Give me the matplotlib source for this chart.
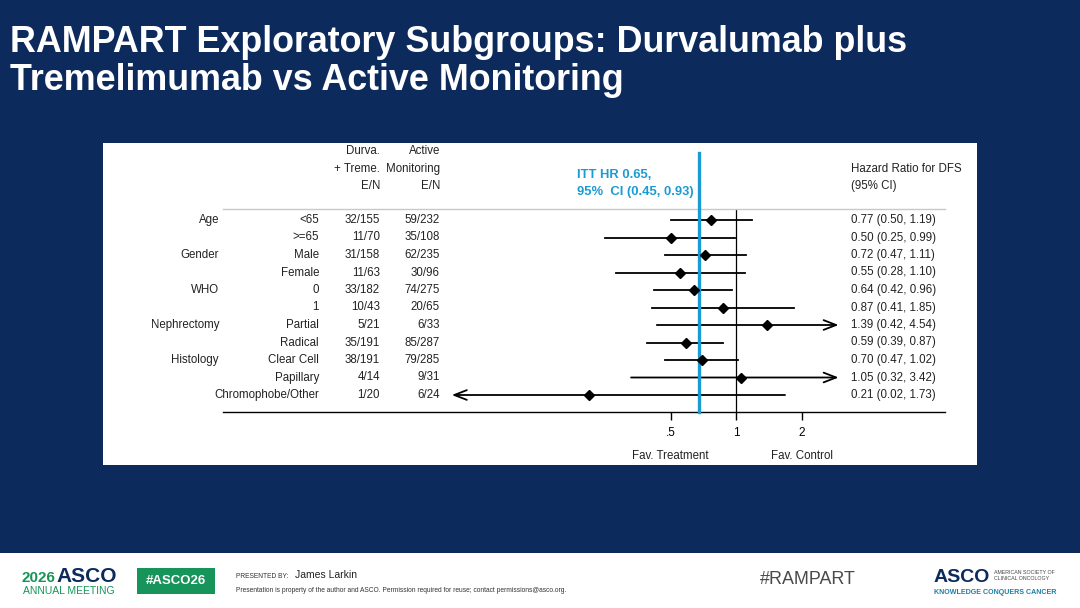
import numpy as np
import matplotlib.pyplot as plt
from matplotlib.patches import Rectangle
from matplotlib.transforms import blended_transform_factory

plt.rcParams['font.family'] = ['Liberation Sans', 'DejaVu Sans']

## data
groups = ['Age', '', 'Gender', '', 'WHO', '', 'Nephrectomy', '', 'Histology', '', '']
subgroups = ['<65', '>=65', 'Male', 'Female', '0', '1', 'Partial', 'Radical',
             'Clear Cell', 'Papillary', 'Chromophobe/Other']
durva_en = ['32/155', '11/70', '31/158', '11/63', '33/182', '10/43', '5/21',
            '35/191', '38/191', '4/14', '1/20']
active_en = ['59/232', '35/108', '62/235', '30/96', '74/275', '20/65', '6/33',
             '85/287', '79/285', '9/31', '6/24']
hr = [0.77, 0.50, 0.72, 0.55, 0.64, 0.87, 1.39, 0.59, 0.70, 1.05, 0.21]
ci_lo = [0.50, 0.25, 0.47, 0.28, 0.42, 0.41, 0.42, 0.39, 0.47, 0.32, 0.02]
ci_hi = [1.19, 0.99, 1.11, 1.10, 0.96, 1.85, 4.54, 0.87, 1.02, 3.42, 1.73]
itt_line = 0.675          # where the blue ITT line sits on the drawn scale
xticks = [0.5, 1, 2]
xtick_labels = ['.5', '1', '2']

W, H = 1080, 608
NAVY = '#0c2a5c'
BLUE = '#1b9bd4'
GREEN = '#16945a'

def fx(px):
    return px / W

def fy(py):
    return 1 - py / H

fig = plt.figure(figsize=(W / 100, H / 100), dpi=100)
fig.patch.set_facecolor(NAVY)

# white panel + footer band (behind the axes)
fig.patches.append(Rectangle((fx(103), fy(465)), fx(977) - fx(103), fy(143) - fy(465),
                             transform=fig.transFigure, facecolor='white', edgecolor='none', zorder=-5))
fig.patches.append(Rectangle((0, 0), 1, fy(553), transform=fig.transFigure,
                             facecolor='white', edgecolor='none', zorder=-5))

# title
fig.text(fx(10), fy(42), 'RAMPART Exploratory Subgroups: Durvalumab plus', color='white',
         fontsize=25.8, fontweight='bold', va='center', ha='left')
fig.text(fx(10), fy(80), 'Tremelimumab vs Active Monitoring', color='white',
         fontsize=25.8, fontweight='bold', va='center', ha='left')

## forest axes: spans the grey top line to the black axis line
x0, x1, ytop, ybot = 223, 945, 209, 412
ax = fig.add_axes([fx(x0), fy(ybot), fx(x1) - fx(x0), fy(ytop) - fy(ybot)])
ax.set_xscale('log', base=2)
px_per_doubling = 65.5
ax.set_xlim(2 ** ((x0 - 736) / px_per_doubling), 2 ** ((x1 - 736) / px_per_doubling))
row0, step = 220, 17.5
ax.set_ylim((ybot - row0) / step, (ytop - row0) / step)
ax.set_facecolor('none')
for s in ['left', 'right']:
    ax.spines[s].set_visible(False)
ax.spines['top'].set_color('#c8c8c8')
ax.spines['top'].set_linewidth(1.0)
ax.spines['bottom'].set_color('black')
ax.spines['bottom'].set_linewidth(1.0)
ax.set_yticks([])
ax.set_xticks(xticks)
ax.set_xticklabels(xtick_labels)
ax.minorticks_off()
ax.tick_params(axis='x', length=6, width=1.0, pad=5, labelsize=8.5, color='black')

ax.axvline(1, color='black', lw=0.9, zorder=1)
ax.axvline(itt_line, ymin=0, ymax=(ybot - 153) / (ybot - ytop), color=BLUE, lw=2.4,
           clip_on=False, zorder=3)

clip_lo, clip_hi = 0.048, 3.05
for i in range(len(hr)):
    lo = max(ci_lo[i], clip_lo)
    hi = min(ci_hi[i], clip_hi)
    if ci_lo[i] < clip_lo:
        ax.annotate('', xy=(lo, i), xytext=(hi, i),
                    arrowprops=dict(arrowstyle='->,head_length=0.9,head_width=0.35', color='black', lw=1.3),
                    zorder=2)
    elif ci_hi[i] > clip_hi:
        ax.annotate('', xy=(hi, i), xytext=(lo, i),
                    arrowprops=dict(arrowstyle='->,head_length=0.9,head_width=0.35', color='black', lw=1.3),
                    zorder=2)
    else:
        ax.plot([lo, hi], [i, i], color='black', lw=1.3, zorder=2)
    ax.plot(hr[i], i, marker='D', color='black', ms=4.8, zorder=4)

## table text in figure-x / data-y
tr = blended_transform_factory(fig.transFigure, ax.transData)
fs = 8.3
for i in range(len(subgroups)):
    kw = dict(transform=tr, fontsize=fs, va='center', color='#222222')
    ax.text(fx(219), i, groups[i], ha='right', **kw)
    ax.text(fx(319), i, subgroups[i], ha='right', **kw)
    ax.text(fx(380), i, durva_en[i], ha='right', **kw)
    ax.text(fx(440), i, active_en[i], ha='right', **kw)
    ax.text(fx(851), i, f'{hr[i]:.2f} ({ci_lo[i]:.2f}, {ci_hi[i]:.2f})', ha='left', **kw)

# column headers
hk = dict(fontsize=fs, va='center', color='#222222')
fig.text(fx(380), fy(151), 'Durva.', ha='right', **hk)
fig.text(fx(380), fy(169), '+ Treme.', ha='right', **hk)
fig.text(fx(380), fy(186), 'E/N', ha='right', **hk)
fig.text(fx(440), fy(151), 'Active', ha='right', **hk)
fig.text(fx(440), fy(169), 'Monitoring', ha='right', **hk)
fig.text(fx(440), fy(186), 'E/N', ha='right', **hk)
fig.text(fx(851), fy(169), 'Hazard Ratio for DFS', ha='left', **hk)
fig.text(fx(851), fy(186), '(95% CI)', ha='left', **hk)
fig.text(fx(577), fy(175), 'ITT HR 0.65,', ha='left', va='center', fontsize=9.4,
         fontweight='bold', color=BLUE)
fig.text(fx(577), fy(192), '95%  CI (0.45, 0.93)', ha='left', va='center', fontsize=9.4,
         fontweight='bold', color=BLUE)
fig.text(fx(670), fy(456), 'Fav. Treatment', ha='center', **hk)
fig.text(fx(802), fy(456), 'Fav. Control', ha='center', **hk)

## footer
fig.text(fx(22), fy(578), '2026', color=GREEN, fontsize=11, fontweight='bold', va='center')
fig.text(fx(56), fy(577), 'ASCO', color=NAVY, fontsize=15, fontweight='bold', va='center')
fig.text(fx(23), fy(591), 'ANNUAL MEETING', color=GREEN, fontsize=7.5, va='center')
fig.patches.append(Rectangle((fx(137), fy(594)), fx(215) - fx(137), fy(568) - fy(594),
                             transform=fig.transFigure, facecolor=GREEN, edgecolor='none', zorder=-4))
fig.text(fx(176), fy(581), '#ASCO26', color='white', fontsize=9.5, fontweight='bold',
         ha='center', va='center')
fig.text(fx(236), fy(576), 'PRESENTED BY:', color='#333333', fontsize=4.8, va='center')
fig.text(fx(295), fy(575), 'James Larkin', color='#222222', fontsize=7.5, va='center')
fig.text(fx(236), fy(591), 'Presentation is property of the author and ASCO. Permission required for reuse; '
         'contact permissions@asco.org.', color='#333333', fontsize=4.8, va='center')
fig.text(fx(760), fy(580), '#RAMPART', color='#4a4a4a', fontsize=12.9, va='center')
fig.text(fx(934), fy(577), 'ASCO', color=NAVY, fontsize=14, fontweight='bold', va='center')
fig.text(fx(994), fy(573), 'AMERICAN SOCIETY OF', color='#444444', fontsize=3.8, va='center')
fig.text(fx(994), fy(579), 'CLINICAL ONCOLOGY', color='#444444', fontsize=3.8, va='center')
fig.text(fx(934), fy(592), 'KNOWLEDGE CONQUERS CANCER', color='#1b7fa8', fontsize=5.1, fontweight='bold',
         va='center')

fig.savefig('out.png', dpi=100, facecolor=NAVY)
